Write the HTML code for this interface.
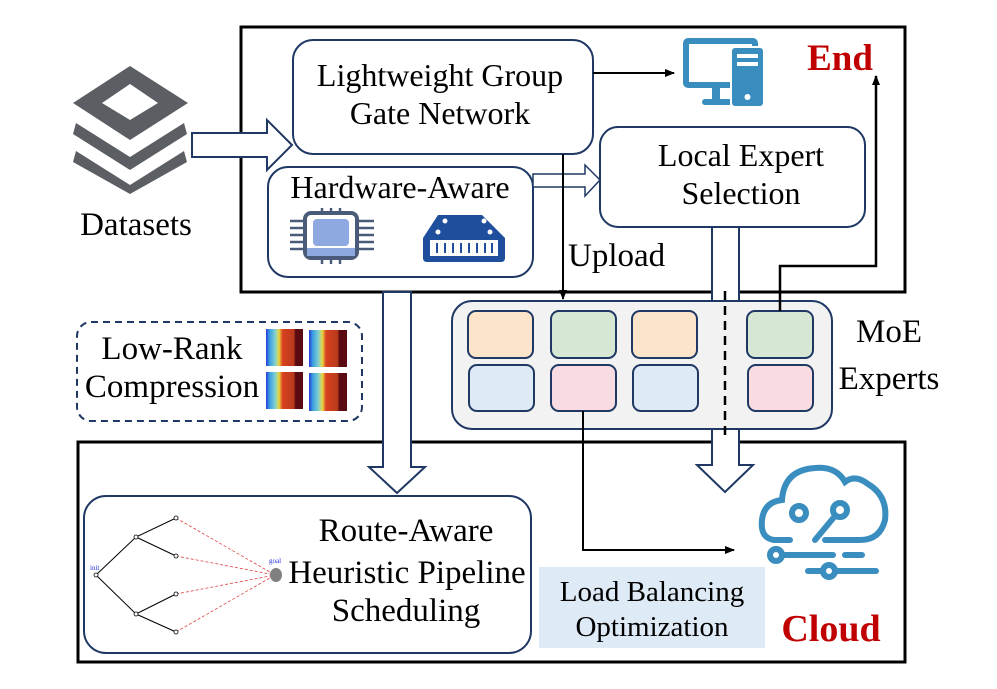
<!DOCTYPE html>
<html><head><meta charset="utf-8"><style>
body{margin:0;background:#fff}
svg{display:block}
text{font-family:"Liberation Serif",serif;fill:#000}
</style></head><body>
<svg width="997" height="689" viewBox="0 0 997 689" xmlns="http://www.w3.org/2000/svg">
<defs>
<marker id="ah" markerWidth="10" markerHeight="8" refX="9" refY="4" orient="auto" markerUnits="userSpaceOnUse"><path d="M0,0 L10,4 L0,8 Z" fill="#000"/></marker>
<linearGradient id="hm" x1="0" x2="1">
<stop offset="0" stop-color="#2a3bdc"/><stop offset="0.1" stop-color="#3aa0e0"/><stop offset="0.25" stop-color="#80d0d0"/><stop offset="0.35" stop-color="#e8d840"/><stop offset="0.45" stop-color="#d84020"/><stop offset="0.75" stop-color="#b83a1a"/><stop offset="0.8" stop-color="#5a0a10"/><stop offset="1" stop-color="#5a0a10"/>
</linearGradient>
</defs>

<rect x="241" y="27" width="664" height="265" fill="none" stroke="#000" stroke-width="3"/>
<rect x="78" y="442" width="827" height="220" fill="none" stroke="#000" stroke-width="3"/>

<g fill="#5b5e63">
<path d="M130,66 L188,103 L130,140 L73,103 Z M130,84 L102,103 L130,120 L158,103 Z" fill-rule="evenodd"/>
<path d="M76,123 L130,157 L184,123 L187,134 L130,170 L73,134 Z"/>
<path d="M76,151 L130,185 L184,151 L187,162 L130,194 L73,162 Z"/>
</g>
<text x="136" y="235" font-size="33" text-anchor="middle">Datasets</text>

<path d="M192,133 L267,133 L267,120 L292,145 L267,170 L267,157 L192,157 Z" fill="#fff" stroke="#1f3864" stroke-width="2"/>

<path d="M383,292 L411,292 L411,467 L425,467 L397,493 L369,467 L383,467 Z" fill="#fff" stroke="#1f3864" stroke-width="2"/>
<path d="M712,227 L739,227 L739,465 L753,465 L725,492 L697,465 L712,465 Z" fill="#fff" stroke="#1f3864" stroke-width="2"/>

<rect x="293" y="40" width="300" height="114" rx="20" fill="#fff" stroke="#1f3864" stroke-width="2"/>
<text x="440" y="86" font-size="32" text-anchor="middle">Lightweight Group</text>
<text x="440" y="124" font-size="32" text-anchor="middle">Gate Network</text>

<rect x="268" y="167" width="265" height="110" rx="20" fill="#fff" stroke="#1f3864" stroke-width="2"/>
<text x="400" y="198" font-size="32" text-anchor="middle">Hardware-Aware</text>
<g>
<rect x="305" y="213" width="52" height="45" rx="6" fill="#fff" stroke="#4a5b7a" stroke-width="4"/>
<rect x="313" y="219" width="36" height="27" rx="4" fill="#8ea8e0"/>
<rect x="307" y="248" width="48" height="8" fill="#8ea8e0"/>
<g stroke="#4a5b7a" stroke-width="2.5">
<line x1="290" y1="221" x2="305" y2="221"/><line x1="290" y1="228" x2="305" y2="228"/><line x1="290" y1="235" x2="305" y2="235"/><line x1="290" y1="242" x2="305" y2="242"/><line x1="290" y1="249" x2="305" y2="249"/>
<line x1="357" y1="221" x2="374" y2="221"/><line x1="357" y1="228" x2="374" y2="228"/><line x1="357" y1="235" x2="374" y2="235"/><line x1="357" y1="242" x2="374" y2="242"/><line x1="357" y1="249" x2="374" y2="249"/>
<line x1="322" y1="208" x2="322" y2="213"/><line x1="331" y1="208" x2="331" y2="213"/><line x1="340" y1="208" x2="340" y2="213"/>
<line x1="322" y1="258" x2="322" y2="264"/><line x1="331" y1="258" x2="331" y2="264"/><line x1="340" y1="258" x2="340" y2="264"/>
</g>
</g>
<g>
<path d="M438,215 L482,215 L505,238 L505,258 Q505,262 501,262 L427,262 Q423,262 423,258 L423,238 Z" fill="#1f4e9c"/>
<circle cx="445" cy="221" r="2.5" fill="#fff"/><circle cx="484" cy="221" r="2.5" fill="#fff"/>
<circle cx="438" cy="232" r="2.5" fill="#fff"/><circle cx="490" cy="232" r="2.5" fill="#fff"/>
<rect x="430" y="240" width="68" height="16" fill="#fff"/>
<g stroke="#1f4e9c" stroke-width="2"><line x1="437" y1="243" x2="437" y2="253"/><line x1="445" y1="243" x2="445" y2="253"/><line x1="453" y1="243" x2="453" y2="253"/><line x1="461" y1="243" x2="461" y2="253"/><line x1="469" y1="243" x2="469" y2="253"/><line x1="477" y1="243" x2="477" y2="253"/><line x1="485" y1="243" x2="485" y2="253"/><line x1="492" y1="243" x2="492" y2="253"/></g>
</g>

<path d="M533,174 L585,174 L585,165 L600,180 L585,196 L585,187 L533,187 Z" fill="#fff" stroke="#1f3864" stroke-width="1.5"/>

<rect x="600" y="127" width="265" height="100" rx="18" fill="#fff" stroke="#1f3864" stroke-width="2"/>
<text x="741" y="166" font-size="32" text-anchor="middle">Local Expert</text>
<text x="741" y="204" font-size="32" text-anchor="middle">Selection</text>

<g fill="#3a8ebf">
<rect x="683" y="38" width="75" height="50" rx="5"/>
<rect x="689" y="44" width="63" height="38" fill="#fff"/>
<rect x="712" y="88" width="8" height="12"/><rect x="702" y="99" width="30" height="6" rx="3"/>
<rect x="731" y="47" width="33" height="60" rx="4" stroke="#fff" stroke-width="2"/>
<rect x="737" y="54" width="21" height="4" fill="#fff"/><rect x="737" y="62" width="21" height="4" fill="#fff"/>
<circle cx="747.5" cy="97" r="3" fill="#fff"/>
</g>
<line x1="593" y1="73" x2="674" y2="73" stroke="#000" stroke-width="2" marker-end="url(#ah)"/>
<text x="840" y="70" font-size="37" font-weight="bold" style="fill:#c00000" text-anchor="middle">End</text>

<line x1="563" y1="154" x2="563" y2="299" stroke="#000" stroke-width="2" marker-end="url(#ah)"/>
<text x="568" y="266" font-size="33">Upload</text>

<rect x="452" y="301" width="380" height="128" rx="20" fill="#f2f2f2" stroke="#1f3864" stroke-width="2"/>
<g stroke="#1f3864" stroke-width="2">
<rect x="468" y="311" width="65" height="47" rx="8" fill="#fce4cb"/>
<rect x="551" y="311" width="65" height="47" rx="8" fill="#d6e8d3"/>
<rect x="632" y="311" width="65" height="47" rx="8" fill="#fce4cb"/>
<rect x="747" y="311" width="66" height="47" rx="8" fill="#d6e8d3"/>
<rect x="469" y="365" width="65" height="46" rx="8" fill="#deeaf6"/>
<rect x="551" y="365" width="65" height="46" rx="8" fill="#f9dce1"/>
<rect x="633" y="365" width="65" height="46" rx="8" fill="#deeaf6"/>
<rect x="748" y="365" width="65" height="46" rx="8" fill="#f9dce1"/>
</g>
<line x1="725" y1="291" x2="725" y2="440" stroke="#000" stroke-width="2.5" stroke-dasharray="9,6"/>
<text x="889" y="342" font-size="33" text-anchor="middle">MoE</text>
<text x="889" y="389" font-size="33" text-anchor="middle">Experts</text>

<polyline points="780,311 780,266 876,266 876,76" fill="none" stroke="#000" stroke-width="2.5" marker-end="url(#ah)"/>

<polyline points="583,411 583,550 734,550" fill="none" stroke="#000" stroke-width="2" marker-end="url(#ah)"/>

<rect x="77" y="322" width="285" height="99" rx="14" fill="#fff" stroke="#1f3864" stroke-width="2" stroke-dasharray="7,5"/>
<text x="172" y="359" font-size="33" text-anchor="middle">Low-Rank</text>
<text x="172" y="397" font-size="33" text-anchor="middle">Compression</text>
<rect x="266" y="329" width="37" height="37" fill="url(#hm)"/>
<rect x="309" y="330" width="38" height="37" fill="url(#hm)"/>
<rect x="266" y="372" width="37" height="37" fill="url(#hm)"/>
<rect x="309" y="373" width="38" height="38" fill="url(#hm)"/>

<rect x="84" y="496" width="447" height="157" rx="22" fill="#fff" stroke="#1f3864" stroke-width="2"/>
<g stroke="#000" stroke-width="1" fill="none">
<polyline points="96,575 136,537 176,518"/><line x1="136" y1="537" x2="176" y2="556"/>
<polyline points="96,575 136,614 176,594"/><line x1="136" y1="614" x2="176" y2="632"/>
</g>
<g stroke="#e04040" stroke-width="0.8" stroke-dasharray="3,2">
<line x1="176" y1="518" x2="275" y2="575"/><line x1="176" y1="556" x2="275" y2="575"/><line x1="176" y1="594" x2="275" y2="575"/><line x1="176" y1="632" x2="275" y2="575"/>
</g>
<g fill="#fff" stroke="#000" stroke-width="0.8"><circle cx="96" cy="575" r="2"/><circle cx="136" cy="537" r="2"/><circle cx="136" cy="614" r="2"/><circle cx="176" cy="518" r="2"/><circle cx="176" cy="556" r="2"/><circle cx="176" cy="594" r="2"/><circle cx="176" cy="632" r="2"/></g>
<ellipse cx="276" cy="575" rx="6" ry="7" fill="#808080"/>
<text x="90" y="570" font-size="7" style="fill:#2030e0" font-family="Liberation Sans">init</text>
<text x="269" y="563" font-size="7" style="fill:#2030e0" font-family="Liberation Sans">goal</text>
<text x="406" y="541" font-size="33" text-anchor="middle">Route-Aware</text>
<text x="407" y="583" font-size="33" text-anchor="middle">Heuristic Pipeline</text>
<text x="406" y="621" font-size="33" text-anchor="middle">Scheduling</text>

<rect x="539" y="567" width="226" height="81" fill="#deeaf6"/>
<text x="652" y="601" font-size="29" text-anchor="middle">Load Balancing</text>
<text x="652" y="636" font-size="29" text-anchor="middle">Optimization</text>

<g fill="none" stroke="#3a8ebf" stroke-width="6" stroke-linecap="round">
<path d="M790,540 L774,540 Q760,538 762,520 Q764,502 782,500 Q784,470 815,468 Q836,466 845,482 Q855,474 868,484 Q888,496 885,520 Q880,540 860,540 L825,540"/>
<circle cx="799" cy="513" r="7"/><circle cx="840" cy="510" r="7"/>
<line x1="835" y1="516" x2="815" y2="540"/>
<circle cx="776" cy="555" r="6"/><line x1="782" y1="555" x2="833" y2="555"/><line x1="845" y1="555" x2="862" y2="555"/>
<line x1="808" y1="571" x2="822" y2="571"/><circle cx="829" cy="571" r="6"/><line x1="836" y1="571" x2="876" y2="571"/>
</g>
<text x="831" y="641" font-size="38" font-weight="bold" style="fill:#c00000" text-anchor="middle">Cloud</text>
</svg>
</body></html>
